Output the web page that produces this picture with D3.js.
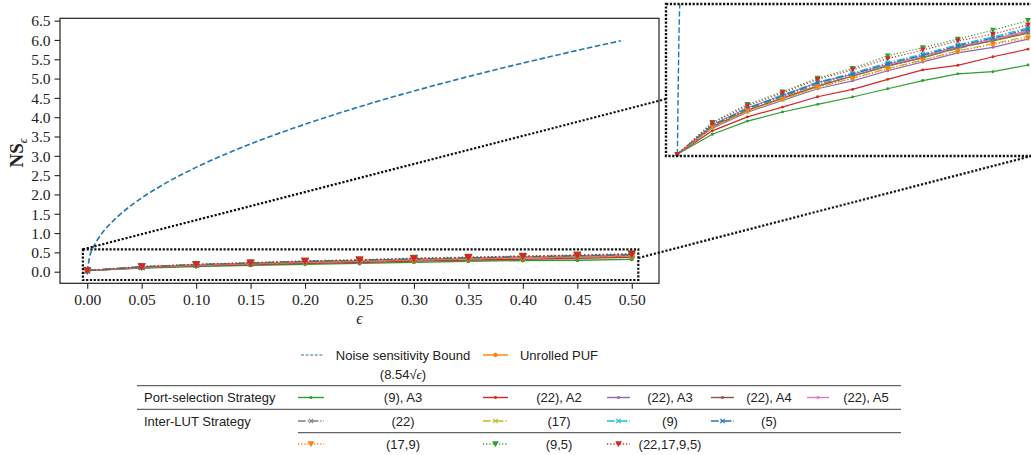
<!DOCTYPE html>
<head>
  <meta charset="utf-8">
  <script src="https://cdn.jsdelivr.net/npm/d3@7"></script>
  <style>
    body { margin:0; background:#fff; overflow:hidden; }
    .tick text { font-family: "Liberation Serif", "Times New Roman", serif; font-size: 15.5px; fill: #222; }
    .tick line { stroke: #222; stroke-width: 1.1px; }
    .legend text { font-family: "Liberation Sans", Arial, sans-serif; font-size: 13px; fill: #222; }
  </style>
</head>
<body>
<script>
// values
var eps = [0, 0.05, 0.10, 0.15, 0.20, 0.25, 0.30, 0.35, 0.40, 0.45, 0.50];

var boundEps  = [0, 0.0025, 0.005, 0.01, 0.02, 0.03, 0.05, 0.07, 0.10, 0.13, 0.16, 0.20, 0.25, 0.30, 0.35, 0.40, 0.45, 0.49];
var boundVals = [0, 0.427, 0.604, 0.854, 1.208, 1.479, 1.910, 2.259, 2.701, 3.079, 3.416, 3.819, 4.270, 4.678, 5.052, 5.401, 5.729, 5.978];

var unrolledPuf = [0.027, 0.118, 0.172, 0.212, 0.252, 0.283, 0.316, 0.343, 0.377, 0.401, 0.429];
var ps9A3   = [0.027, 0.093, 0.136, 0.166, 0.191, 0.215, 0.242, 0.269, 0.291, 0.298, 0.320];
var ps22A2  = [0.027, 0.104, 0.150, 0.182, 0.216, 0.240, 0.273, 0.304, 0.319, 0.347, 0.372];
var ps22A3  = [0.027, 0.113, 0.165, 0.204, 0.242, 0.268, 0.301, 0.330, 0.360, 0.378, 0.405];
var ps22A4  = [0.027, 0.117, 0.171, 0.211, 0.250, 0.284, 0.318, 0.344, 0.378, 0.399, 0.424];
var ps22A5  = [0.027, 0.124, 0.180, 0.220, 0.262, 0.289, 0.322, 0.350, 0.380, 0.405, 0.432];
var il22    = [0.027, 0.120, 0.176, 0.216, 0.257, 0.284, 0.316, 0.345, 0.374, 0.400, 0.428];
var il17    = [0.027, 0.115, 0.168, 0.207, 0.246, 0.277, 0.309, 0.336, 0.367, 0.390, 0.414];
var il9     = [0.027, 0.123, 0.179, 0.222, 0.264, 0.293, 0.328, 0.356, 0.387, 0.412, 0.442];
var il5     = [0.027, 0.122, 0.177, 0.219, 0.262, 0.290, 0.324, 0.352, 0.383, 0.408, 0.437];
var il17_9  = [0.027, 0.116, 0.169, 0.208, 0.248, 0.276, 0.306, 0.336, 0.364, 0.388, 0.408];
var il9_5   = [0.027, 0.132, 0.191, 0.232, 0.277, 0.309, 0.350, 0.377, 0.405, 0.434, 0.466];
var il22_17_9_5 = [0.027, 0.129, 0.186, 0.228, 0.273, 0.304, 0.341, 0.369, 0.399, 0.421, 0.451];

var xTicks = [0, 0.05, 0.10, 0.15, 0.20, 0.25, 0.30, 0.35, 0.40, 0.45, 0.50];
var yTicks = [0, 0.5, 1.0, 1.5, 2.0, 2.5, 3.0, 3.5, 4.0, 4.5, 5.0, 5.5, 6.0, 6.5];

// zoom window drawn on the main axes
var zoomBoxX = [-0.004, 0.506];
var zoomBoxY = [-0.215, 0.58];

// series styles (matplotlib tab10)
var series = [
  {label: "Unrolled PUF", v: unrolledPuf, color: "#ff7f0e", dash: null,  marker: "o"},
  {label: "(9), A3",  v: ps9A3,  color: "#2ca02c", dash: null, marker: "."},
  {label: "(22), A2", v: ps22A2, color: "#d62728", dash: null, marker: "."},
  {label: "(22), A3", v: ps22A3, color: "#9467bd", dash: null, marker: "."},
  {label: "(22), A4", v: ps22A4, color: "#8c564b", dash: null, marker: "."},
  {label: "(22), A5", v: ps22A5, color: "#e377c2", dash: null, marker: "."},
  {label: "(22)", v: il22, color: "#7f7f7f", dash: "dashdot", marker: "x"},
  {label: "(17)", v: il17, color: "#bcbd22", dash: "dashdot", marker: "x"},
  {label: "(9)",  v: il9,  color: "#17becf", dash: "dashdot", marker: "x"},
  {label: "(5)",  v: il5,  color: "#1f77b4", dash: "dashdot", marker: "x"},
  {label: "(17,9)", v: il17_9, color: "#ff7f0e", dash: "dotted", marker: "v"},
  {label: "(9,5)",  v: il9_5,  color: "#2ca02c", dash: "dotted", marker: "v"},
  {label: "(22,17,9,5)", v: il22_17_9_5, color: "#d62728", dash: "dotted", marker: "v"}
];

var width = 1031, height = 455;

var svg = d3.select("body").append("svg")
    .attr("width", width)
    .attr("height", height);

// ---- main axes
var main = {left: 60, right: 659, top: 18.3, bottom: 283.3};
var x = d3.scaleLinear().domain([-0.025, 0.525]).range([main.left, main.right]);
var y = d3.scaleLinear().domain([-0.3, 6.56]).range([main.bottom, main.top]);

// ---- inset axes
var ins = {left: 666, right: 1035, top: 4, bottom: 156};
var xi = d3.scaleLinear().domain([-0.0161, 0.51]).range([ins.left, ins.right]);
var yi = d3.scaleLinear().domain([0.0216, 0.52]).range([ins.bottom, ins.top]);

var defs = svg.append("defs");
defs.append("clipPath").attr("id", "clipMain").append("rect")
    .attr("x", main.left).attr("y", main.top)
    .attr("width", main.right - main.left).attr("height", main.bottom - main.top);
defs.append("clipPath").attr("id", "clipInset").append("rect")
    .attr("x", ins.left).attr("y", ins.top)
    .attr("width", ins.right - ins.left).attr("height", ins.bottom - ins.top);

function dashArray(kind, lw) {
  if (kind === "dashdot") return [6.4 * lw, 1.6 * lw, 1 * lw, 1.6 * lw].join(",");
  if (kind === "dotted") return [1 * lw, 1.65 * lw].join(",");
  return null;
}

function drawMarker(g, type, s, color) {
  if (type === "v") {
    g.append("path")
      .attr("d", "M" + (-s / 2) + "," + (-s * 0.42) + "L" + (s / 2) + "," + (-s * 0.42) + "L0," + (s * 0.5) + "Z")
      .attr("fill", color);
  } else if (type === "x") {
    var h = s * 0.35;
    g.append("path")
      .attr("d", "M" + -h + "," + -h + "L" + h + "," + h + "M" + -h + "," + h + "L" + h + "," + -h)
      .attr("stroke", color).attr("stroke-width", 1.1);
  } else if (type === "o") {
    g.append("circle").attr("r", s * 0.36).attr("fill", color);
  } else {
    g.append("circle").attr("r", s * 0.25).attr("fill", color);
  }
}

function drawSeries(g, xs, ys, lw, ms) {
  var line = d3.line().x(function(d) { return xs(d[0]); }).y(function(d) { return ys(d[1]); });

  // bound first
  var bpts = boundEps.map(function(e, i) { return [e, boundVals[i]]; });
  g.append("path")
    .datum(bpts)
    .attr("fill", "none")
    .attr("stroke", "#1f77b4")
    .attr("stroke-width", lw * 1.15)
    .attr("stroke-dasharray", "5.5,2.6")
    .attr("d", line.curve(d3.curveMonotoneX));
  line.curve(d3.curveLinear);

  series.forEach(function(s) {
    var pts = eps.map(function(e, i) { return [e, s.v[i]]; });
    g.append("path")
      .datum(pts)
      .attr("fill", "none")
      .attr("stroke", s.color)
      .attr("stroke-width", lw)
      .attr("stroke-dasharray", dashArray(s.dash, lw))
      .attr("d", line);
    g.selectAll(null).data(pts).enter().append("g")
      .attr("transform", function(d) { return "translate(" + xs(d[0]) + "," + ys(d[1]) + ")"; })
      .each(function() { drawMarker(d3.select(this), s.marker, ms, s.color); });
  });
}

// main plot content
var plot = svg.append("g").attr("clip-path", "url(#clipMain)");
drawSeries(plot, x, y, 1.4, 8);

// zoom box on main axes
svg.append("rect")
    .attr("x", x(zoomBoxX[0]))
    .attr("y", y(zoomBoxY[1]))
    .attr("width", x(zoomBoxX[1]) - x(zoomBoxX[0]))
    .attr("height", y(zoomBoxY[0]) - y(zoomBoxY[1]))
    .attr("fill", "none")
    .attr("stroke", "#111")
    .attr("stroke-width", 2.2)
    .attr("stroke-dasharray", "2.2,1.6");

// axes
var xAxisG = svg.append("g")
    .attr("transform", "translate(0," + main.bottom + ")")
    .call(d3.axisBottom(x).tickValues(xTicks).tickFormat(d3.format(".2f")).tickSize(5.5).tickPadding(4))
    .call(function(g) { g.select(".domain").remove(); });

var yAxisG = svg.append("g")
    .attr("transform", "translate(" + main.left + ",0)")
    .call(d3.axisLeft(y).tickValues(yTicks).tickFormat(d3.format(".1f")).tickSize(5.5).tickPadding(4))
    .call(function(g) { g.select(".domain").remove(); });

yAxisG.selectAll(".tick text").attr("dy", "0.34em");
xAxisG.selectAll(".tick text").attr("dy", "0.76em");

svg.append("rect")
    .attr("x", main.left).attr("y", main.top)
    .attr("width", main.right - main.left).attr("height", main.bottom - main.top)
    .attr("fill", "none").attr("stroke", "#222").attr("stroke-width", 1.2);

// axis labels
svg.append("text")
    .attr("x", (main.left + main.right) / 2)
    .attr("y", 324)
    .attr("text-anchor", "middle")
    .style("font-family", "'Liberation Serif', serif")
    .style("font-style", "italic")
    .style("font-size", "16px")
    .attr("fill", "#222")
    .text("ϵ");

var yl = svg.append("text")
    .attr("transform", "translate(23," + 153 + ") rotate(-90)")
    .attr("text-anchor", "middle")
    .style("font-family", "'Liberation Serif', serif")
    .style("font-size", "19px")
    .style("font-weight", "bold")
    .attr("fill", "#222");
yl.append("tspan").text("NS");
yl.append("tspan").attr("dy", 4).style("font-size", "12px").style("font-weight", "normal").style("font-style", "italic").text("ϵ");

// ---- inset
var inset = svg.append("g").attr("clip-path", "url(#clipInset)");
inset.append("rect")
    .attr("x", ins.left).attr("y", ins.top)
    .attr("width", ins.right - ins.left).attr("height", ins.bottom - ins.top)
    .attr("fill", "#fff");
drawSeries(inset, xi, yi, 1.2, 5.8);

svg.append("rect")
    .attr("x", ins.left).attr("y", ins.top)
    .attr("width", ins.right - ins.left).attr("height", ins.bottom - ins.top)
    .attr("fill", "none")
    .attr("stroke", "#111")
    .attr("stroke-width", 2.4)
    .attr("stroke-dasharray", "2.2,1.6");

// connector lines (main box -> inset)
var connectors = [
  {from: [zoomBoxX[0], zoomBoxY[1]], to: [xi.domain()[0], 0.2085]},
  {from: [zoomBoxX[1], 0.355], to: [0.505, yi.domain()[0]]}
];
svg.selectAll(null).data(connectors).enter().append("line")
    .attr("x1", function(d) { return x(d.from[0]); })
    .attr("y1", function(d) { return y(d.from[1]); })
    .attr("x2", function(d) { return xi(d.to[0]); })
    .attr("y2", function(d) { return yi(d.to[1]); })
    .attr("stroke", "#111")
    .attr("stroke-width", 2.2)
    .attr("stroke-dasharray", "2.2,1.8");

// ---- legend (table layout)
var legendRows = [
  {title: null, items: ["Noise sensitivity Bound", "Unrolled PUF"]},
  {title: "Port-selection Strategy", items: ["(9), A3", "(22), A2", "(22), A3", "(22), A4", "(22), A5"]},
  {title: "Inter-LUT Strategy", items: ["(22)", "(17)", "(9)", "(5)"]},
  {title: null, items: ["(17,9)", "(9,5)", "(22,17,9,5)"]}
];

var colSample = [[298, 324], [483, 508], [607, 630], [711, 734], [807, 829]];
var colText = [403, 559, 670, 769, 866];
var rowY = [355, 397.5, 421, 444];

var legend = svg.append("g").attr("class", "legend");

legendRows.forEach(function(row, r) {
  var cy = rowY[r];
  if (row.title) {
    legend.append("text").attr("x", 144).attr("y", cy).attr("dy", "0.35em").text(row.title);
  }
  row.items.forEach(function(name, c) {
    var s0 = colSample[c][0], s1 = colSample[c][1];
    var lg = legend.append("g");
    if (name === "Noise sensitivity Bound") {
      lg.append("line").attr("x1", s0 + 3).attr("x2", s1).attr("y1", cy).attr("y2", cy)
        .attr("stroke", "#1f77b4").attr("stroke-width", 1.1).attr("stroke-dasharray", "3,1.6");
    } else {
      var s = series.find(function(d) { return d.label === name; });
      lg.append("line").attr("x1", s0).attr("x2", s1).attr("y1", cy).attr("y2", cy)
        .attr("stroke", s.color).attr("stroke-width", 1.4)
        .attr("stroke-dasharray", dashArray(s.dash, 1.2));
      var mg = lg.append("g").attr("transform", "translate(" + ((s0 + s1) / 2) + "," + cy + ")");
      drawMarker(mg, s.marker, s.marker === "v" ? 6.5 : 6, s.color);
    }
    legend.append("text").attr("x", colText[c]).attr("y", cy).attr("dy", "0.35em")
      .attr("text-anchor", "middle").text(name);
  });
});

var f = legend.append("text").attr("x", colText[0]).attr("y", 374).attr("dy", "0.35em").attr("text-anchor", "middle");
f.append("tspan").text("(8.54√");
f.append("tspan").style("font-family", "'Liberation Serif', serif").style("font-style", "italic").text("ϵ");
f.append("tspan").text(")");

var rules = [[137, 901, 385.7], [137, 901, 409.3], [298, 901, 432.7]];
legend.selectAll("line.rule").data(rules).enter().append("line")
    .attr("class", "rule")
    .attr("x1", function(d) { return d[0]; })
    .attr("x2", function(d) { return d[1]; })
    .attr("y1", function(d) { return d[2]; })
    .attr("y2", function(d) { return d[2]; })
    .attr("stroke", "#666")
    .attr("stroke-width", 1.2);
</script>
</body>
